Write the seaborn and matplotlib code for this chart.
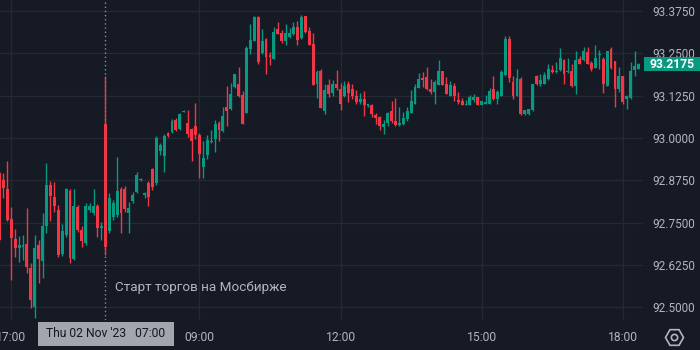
import numpy as np
import pandas as pd
import matplotlib
matplotlib.use("Agg")
import matplotlib.pyplot as plt
import matplotlib.transforms as mtransforms
from matplotlib.patches import Rectangle
from matplotlib.lines import Line2D
import seaborn as sns

# ---------------- data (5-minute candles, bar index 0 = 07:00 Thu 02 Nov '23) ----------------
bar_index = list(range(-27, 137))

opens = [
    92.897, 92.876, 92.849, 92.761, 92.702, 92.675, 92.678, 92.687, 92.616, 92.501,
    92.684, 92.637, 92.740, 92.861, 92.826, 92.787, 92.657, 92.714, 92.843, 92.643,
    92.796, 92.728, 92.690, 92.787, 92.779, 92.799, 92.734, 93.041, 92.725, 92.767,
    92.773, 92.849, 92.849, 92.779, 92.814, 92.841, 92.876, 92.832, 92.867, 92.908,
    92.867, 92.962, 92.947, 93.015, 93.018, 93.053, 93.027, 93.078, 93.044, 93.027,
    93.035, 93.009, 92.914, 92.950, 92.988, 92.997, 93.044, 93.021, 93.092, 93.086,
    93.151, 93.159, 93.127, 93.074, 93.263, 93.286, 93.357, 93.251, 93.292, 93.245,
    93.233, 93.322, 93.310, 93.286, 93.298, 93.307, 93.328, 93.295, 93.360, 93.316,
    93.278, 93.159, 93.198, 93.080, 93.157, 93.133, 93.159, 93.145, 93.124, 93.159,
    93.145, 93.124, 93.106, 93.115, 93.094, 93.097, 93.068, 93.062, 93.033, 93.044,
    93.080, 93.050, 93.038, 93.041, 93.056, 93.074, 93.100, 93.148, 93.177, 93.180,
    93.145, 93.136, 93.157, 93.198, 93.159, 93.124, 93.154, 93.112, 93.109, 93.097,
    93.097, 93.112, 93.121, 93.097, 93.100, 93.100, 93.145, 93.115, 93.124, 93.186,
    93.292, 93.165, 93.124, 93.174, 93.071, 93.071, 93.083, 93.183, 93.159, 93.159,
    93.174, 93.201, 93.195, 93.201, 93.230, 93.195, 93.198, 93.154, 93.233, 93.230,
    93.254, 93.222, 93.207, 93.245, 93.233, 93.154, 93.263, 93.227, 93.145, 93.183,
    93.115, 93.118, 93.201, 93.204,
]

highs = [
    92.902, 92.897, 92.932, 92.796, 92.731, 92.711, 92.714, 92.793, 92.631, 92.714,
    92.699, 92.779, 92.926, 92.873, 92.870, 92.802, 92.746, 92.852, 92.849, 92.849,
    92.802, 92.740, 92.808, 92.808, 92.849, 92.805, 92.752, 93.183, 92.838, 92.817,
    92.944, 92.855, 92.858, 92.811, 92.841, 92.900, 92.882, 92.841, 92.873, 92.911,
    93.006, 92.985, 93.012, 93.018, 93.056, 93.059, 93.074, 93.083, 93.083, 93.030,
    93.103, 93.015, 92.991, 93.009, 93.024, 93.053, 93.050, 93.092, 93.154, 93.162,
    93.189, 93.210, 93.139, 93.272, 93.337, 93.360, 93.360, 93.322, 93.295, 93.254,
    93.328, 93.343, 93.319, 93.337, 93.325, 93.343, 93.346, 93.363, 93.360, 93.328,
    93.310, 93.201, 93.204, 93.159, 93.174, 93.171, 93.201, 93.162, 93.168, 93.168,
    93.159, 93.142, 93.133, 93.139, 93.100, 93.100, 93.074, 93.065, 93.053, 93.077,
    93.109, 93.118, 93.092, 93.077, 93.092, 93.142, 93.159, 93.192, 93.195, 93.210,
    93.174, 93.171, 93.230, 93.198, 93.180, 93.168, 93.162, 93.136, 93.118, 93.112,
    93.127, 93.130, 93.121, 93.109, 93.127, 93.148, 93.183, 93.142, 93.201, 93.301,
    93.301, 93.183, 93.204, 93.180, 93.083, 93.086, 93.159, 93.186, 93.189, 93.195,
    93.219, 93.216, 93.224, 93.266, 93.233, 93.236, 93.219, 93.257, 93.242, 93.269,
    93.269, 93.227, 93.275, 93.260, 93.239, 93.257, 93.269, 93.227, 93.210, 93.183,
    93.127, 93.224, 93.257, 93.222,
]

lows = [
    92.693, 92.823, 92.755, 92.581, 92.649, 92.634, 92.640, 92.601, 92.498, 92.468,
    92.572, 92.587, 92.720, 92.755, 92.782, 92.649, 92.652, 92.708, 92.631, 92.640,
    92.722, 92.678, 92.684, 92.782, 92.773, 92.708, 92.699, 92.655, 92.720, 92.758,
    92.767, 92.720, 92.782, 92.720, 92.808, 92.838, 92.873, 92.823, 92.799, 92.846,
    92.861, 92.950, 92.900, 93.003, 93.015, 93.021, 93.024, 93.077, 93.003, 92.932,
    92.997, 92.882, 92.882, 92.938, 92.985, 92.959, 92.991, 93.018, 93.035, 93.083,
    93.148, 93.121, 93.041, 93.074, 93.248, 93.286, 93.219, 93.248, 93.189, 93.216,
    93.233, 93.307, 93.281, 93.275, 93.295, 93.304, 93.275, 93.292, 93.310, 93.275,
    93.157, 93.118, 93.089, 93.071, 93.121, 93.124, 93.142, 93.083, 93.121, 93.106,
    93.115, 93.100, 93.100, 93.065, 93.092, 93.062, 93.041, 93.024, 93.012, 93.035,
    93.044, 93.035, 93.035, 93.038, 93.050, 93.074, 93.100, 93.148, 93.151, 93.142,
    93.130, 93.100, 93.157, 93.157, 93.130, 93.124, 93.109, 93.100, 93.097, 93.097,
    93.097, 93.106, 93.097, 93.097, 93.100, 93.100, 93.112, 93.100, 93.124, 93.183,
    93.165, 93.115, 93.124, 93.068, 93.068, 93.068, 93.080, 93.157, 93.154, 93.159,
    93.171, 93.192, 93.192, 93.198, 93.159, 93.192, 93.151, 93.130, 93.219, 93.227,
    93.219, 93.198, 93.207, 93.204, 93.133, 93.154, 93.204, 93.092, 93.136, 93.100,
    93.086, 93.115, 93.183, 93.204,
]

closes = [
    92.699, 92.852, 92.758, 92.705, 92.675, 92.684, 92.684, 92.619, 92.522, 92.675,
    92.643, 92.740, 92.861, 92.829, 92.799, 92.655, 92.725, 92.849, 92.646, 92.799,
    92.728, 92.696, 92.799, 92.799, 92.799, 92.734, 92.740, 92.678, 92.823, 92.808,
    92.843, 92.779, 92.790, 92.793, 92.832, 92.891, 92.879, 92.838, 92.826, 92.855,
    93.000, 92.979, 93.006, 93.006, 93.050, 93.024, 93.071, 93.080, 93.012, 92.991,
    93.009, 92.953, 92.941, 92.994, 92.991, 93.041, 93.024, 93.065, 93.080, 93.130,
    93.189, 93.124, 93.041, 93.266, 93.289, 93.357, 93.224, 93.286, 93.239, 93.239,
    93.313, 93.307, 93.286, 93.310, 93.310, 93.328, 93.289, 93.357, 93.313, 93.275,
    93.157, 93.195, 93.089, 93.142, 93.130, 93.159, 93.148, 93.100, 93.154, 93.133,
    93.124, 93.106, 93.115, 93.097, 93.100, 93.071, 93.059, 93.035, 93.041, 93.074,
    93.050, 93.038, 93.044, 93.059, 93.080, 93.109, 93.151, 93.174, 93.171, 93.145,
    93.136, 93.165, 93.198, 93.157, 93.130, 93.157, 93.124, 93.106, 93.097, 93.100,
    93.121, 93.121, 93.097, 93.109, 93.106, 93.139, 93.115, 93.136, 93.195, 93.292,
    93.177, 93.124, 93.177, 93.071, 93.083, 93.086, 93.159, 93.159, 93.171, 93.186,
    93.204, 93.195, 93.198, 93.236, 93.189, 93.198, 93.154, 93.230, 93.219, 93.257,
    93.219, 93.204, 93.236, 93.248, 93.159, 93.257, 93.207, 93.145, 93.183, 93.106,
    93.124, 93.198, 93.213, 93.2175,
]

x_tick_pos = [-24, 24, 60, 96, 132]
x_tick_labels = ["17:00", "09:00", "12:00", "15:00", "18:00"]
y_ticks = [92.5, 92.625, 92.75, 92.875, 93.0, 93.125, 93.25, 93.375]
session_start_index = 0
session_label = "Thu 02 Nov '23   07:00"
annotation_text = "Старт торгов на Мосбирже"
last_price = 93.2175

# ---------------- style ----------------
BG = "#161a25"
GRID = "#252934"
TXT = "#b2b5be"
UP = "#089981"
DOWN = "#f23645"

sns.set_theme(style="dark", rc={"axes.facecolor": BG, "figure.facecolor": BG})
plt.rcParams["font.family"] = ["Roboto", "DejaVu Sans"]

df = pd.DataFrame({"i": bar_index, "open": opens, "high": highs,
                   "low": lows, "close": closes})
df["color"] = np.where(df["close"] >= df["open"], UP, DOWN)
body_lo = np.minimum(df["open"], df["close"])
body_hi = np.maximum(df["open"], df["close"])
body_h = np.maximum(body_hi - body_lo, 0.0018)

fig = plt.figure(figsize=(7, 3.5), dpi=100, facecolor=BG)
ax = fig.add_axes([0, 30 / 350, 643 / 700, 320 / 350])
ax.set_facecolor(BG)

# grid
ax.set_xticks(x_tick_pos)
ax.set_xticklabels(x_tick_labels)
ax.set_yticks(y_ticks)
ax.set_yticklabels([f"{v:.4f}" for v in y_ticks])
ax.grid(True, color=GRID, linewidth=1, zorder=0)
ax.set_axisbelow(True)

# session start marker
ax.axvline(session_start_index, color="#8a8d96", linestyle=(0, (1, 2)),
           linewidth=1, zorder=1)

# candles
ax.vlines(df["i"], np.minimum(df["low"], body_lo), np.maximum(df["high"], body_hi),
          colors=df["color"], linewidth=1, zorder=3)
ax.bar(df["i"], body_h, bottom=body_lo, width=0.74, color=df["color"],
       linewidth=0, zorder=4)

ax.set_xlim(-26.86, 137.15)
ax.set_ylim(92.4626, 93.4075)

for s in ax.spines.values():
    s.set_visible(False)

ax.yaxis.tick_right()
ax.tick_params(axis="y", length=0, pad=6.5, labelsize=8.5, labelcolor=TXT)
ax.tick_params(axis="x", length=0, pad=8, labelsize=8.7, labelcolor=TXT)
ax.set_xlabel("")
ax.set_ylabel("")

# annotation
ax.text(2.45, 92.560, annotation_text, color=TXT, fontsize=9.7,
        ha="left", va="center", zorder=5)

# session date label box
bt = mtransforms.blended_transform_factory(ax.transData, ax.transAxes)
ax.add_patch(Rectangle((-17.2, -0.08125), 34.7, 0.075, transform=bt,
                       facecolor="#a3a6af", edgecolor="none", clip_on=False, zorder=6))
ax.text(session_start_index, -0.0437, session_label, transform=bt, color="#131722",
        fontsize=8.7, ha="center", va="center", clip_on=False, zorder=7)

# last price label
pt = mtransforms.blended_transform_factory(ax.transAxes, ax.transData)
ax.add_patch(Rectangle((1.0016, last_price - 0.0207), 0.0871, 0.0413, transform=pt,
                       facecolor=UP, edgecolor="none", clip_on=False, zorder=6))
ax.text(1.0095, last_price, f"{last_price:.4f}", transform=pt, color="white",
        fontsize=8.7, fontweight="bold", ha="left", va="center", clip_on=False, zorder=7)

# settings icon
fig.add_artist(Line2D([674 / 700], [1 - 337 / 350], marker="H", markersize=13,
                      markerfacecolor="none", markeredgecolor=TXT, markeredgewidth=1.2,
                      transform=fig.transFigure))
fig.add_artist(Line2D([674 / 700], [1 - 337 / 350], marker="o", markersize=4.5,
                      markerfacecolor="none", markeredgecolor=TXT, markeredgewidth=1.2,
                      transform=fig.transFigure))

fig.savefig("out.png", dpi=100, facecolor=BG)
